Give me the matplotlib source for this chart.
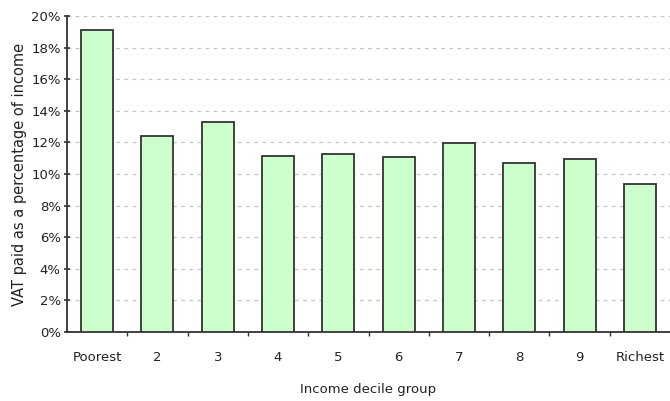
import matplotlib
matplotlib.use("Agg")
import matplotlib.pyplot as plt
import numpy as np
from matplotlib.ticker import FuncFormatter, FixedLocator

categories = ["Poorest", "2", "3", "4", "5", "6", "7", "8", "9", "Richest"]
vat_pct = [19.1, 12.4, 13.3, 11.15, 11.25, 11.1, 11.95, 10.7, 10.95, 9.4]

plt.rcParams['font.family'] = ['DejaVu Sans']
fig = plt.figure(figsize=(6.7, 4.01), dpi=100)
ax = fig.add_axes([0.1, 0.172, 0.9, 0.788])

x = np.arange(len(categories))
ax.bar(x, vat_pct, width=0.53, color="#ccffcc", edgecolor="#333333", linewidth=1.3, zorder=3)

ax.set_xlim(-0.5, len(categories) - 0.5)
ax.set_ylim(0, 20)
ax.set_yticks(np.arange(0, 21, 2))
ax.yaxis.set_major_formatter(FuncFormatter(lambda v, p: f"{int(v)}%"))
ax.yaxis.grid(True, linestyle=(0, (3, 3.5)), color="#c4c4c4", linewidth=0.9, zorder=0)

ax.set_xticks(x)
ax.set_xticklabels(categories)
ax.tick_params(axis="x", which="major", length=0, pad=14, labelsize=9.5, colors="#222222")
ax.xaxis.set_minor_locator(FixedLocator(np.arange(0.5, len(categories) - 1, 1)))
ax.tick_params(axis="x", which="minor", length=3, width=1, direction="out", color="#333333")
ax.tick_params(axis="y", length=5, width=1.2, direction="inout", labelsize=9.5, colors="#333333",
               labelcolor="#222222", pad=2)

for s in ["top", "right"]:
    ax.spines[s].set_visible(False)
for s in ["left", "bottom"]:
    ax.spines[s].set_color("#333333")
    ax.spines[s].set_linewidth(1.3)

ax.set_xlabel("Income decile group", fontsize=9.5, color="#222222", labelpad=13)
ax.set_ylabel("VAT paid as a percentage of income", fontsize=10.5, color="#222222", labelpad=3)

fig.savefig("out.png", dpi=100)
